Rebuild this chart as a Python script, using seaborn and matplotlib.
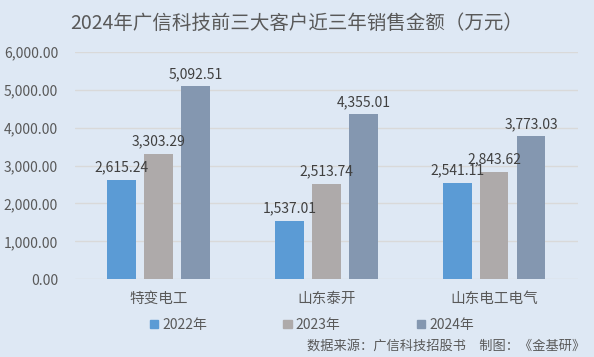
import numpy as np
import pandas as pd
import matplotlib
matplotlib.use("Agg")
import matplotlib.pyplot as plt
import seaborn as sns
from matplotlib.ticker import FuncFormatter

# data
customers = ["特变电工", "山东泰开", "山东电工电气"]
years = ["2022年", "2023年", "2024年"]
sales_2022 = [2615.24, 1537.01, 2541.11]
sales_2023 = [3303.29, 2513.74, 2843.62]
sales_2024 = [5092.51, 4355.01, 3773.03]

colors = ["#5b9bd5", "#aeaaaa", "#8497b0"]
bg = "#dee8f4"

df = pd.DataFrame({
    "customer": customers * 3,
    "year": [y for y in years for _ in customers],
    "value": sales_2022 + sales_2023 + sales_2024,
})

sns.set_theme(style="white")
plt.rcParams["font.family"] = ["Noto Sans CJK SC", "DejaVu Sans"]

fig = plt.figure(figsize=(5.94, 3.57), dpi=100, facecolor=bg)
ax = fig.add_axes([0.126, 0.218, 0.847, 0.636])
ax.set_facecolor(bg)

sns.barplot(data=df, x="customer", y="value", hue="year", palette=colors,
            width=0.66, gap=0.22, ax=ax, legend=False, saturation=1,
            linewidth=0, edgecolor="none")

ax.set_ylim(0, 6000)
ax.set_yticks(np.arange(0, 6001, 1000))
ax.yaxis.set_major_formatter(FuncFormatter(lambda v, p: f"{v:,.2f}"))
ax.grid(axis="y", color="#d9d9d9", linewidth=1)
ax.set_axisbelow(True)
for s in ax.spines.values():
    s.set_visible(False)
ax.tick_params(axis="y", colors="#595959", labelsize=10, length=0, pad=12)
ax.tick_params(axis="x", colors="#595959", labelsize=10.5, length=0, pad=9)
ax.set_xlabel("")
ax.set_ylabel("")

for cont in ax.containers:
    ax.bar_label(cont, labels=[f"{v:,.2f}" for v in cont.datavalues],
                 padding=4, fontsize=10, color="#404040")

fig.text(0.5, 0.935, "2024年广信科技前三大客户近三年销售金额（万元）",
         ha="center", va="center", fontsize=14, color="#595959")

# legend
handles = [plt.Rectangle((0, 0), 1, 1, color=c) for c in colors]
fig.legend(handles, years, loc="center", bbox_to_anchor=(0.525, 0.09), ncol=3,
           frameon=False, fontsize=10, labelcolor="#595959",
           handlelength=0.6, handleheight=0.6, handletextpad=0.3, columnspacing=5.5)

fig.text(0.985, 0.03, "数据来源：广信科技招股书　制图：《金基研》",
         ha="right", va="center", fontsize=9.5, color="#595959")

fig.savefig("out.png", dpi=100, facecolor=bg)
